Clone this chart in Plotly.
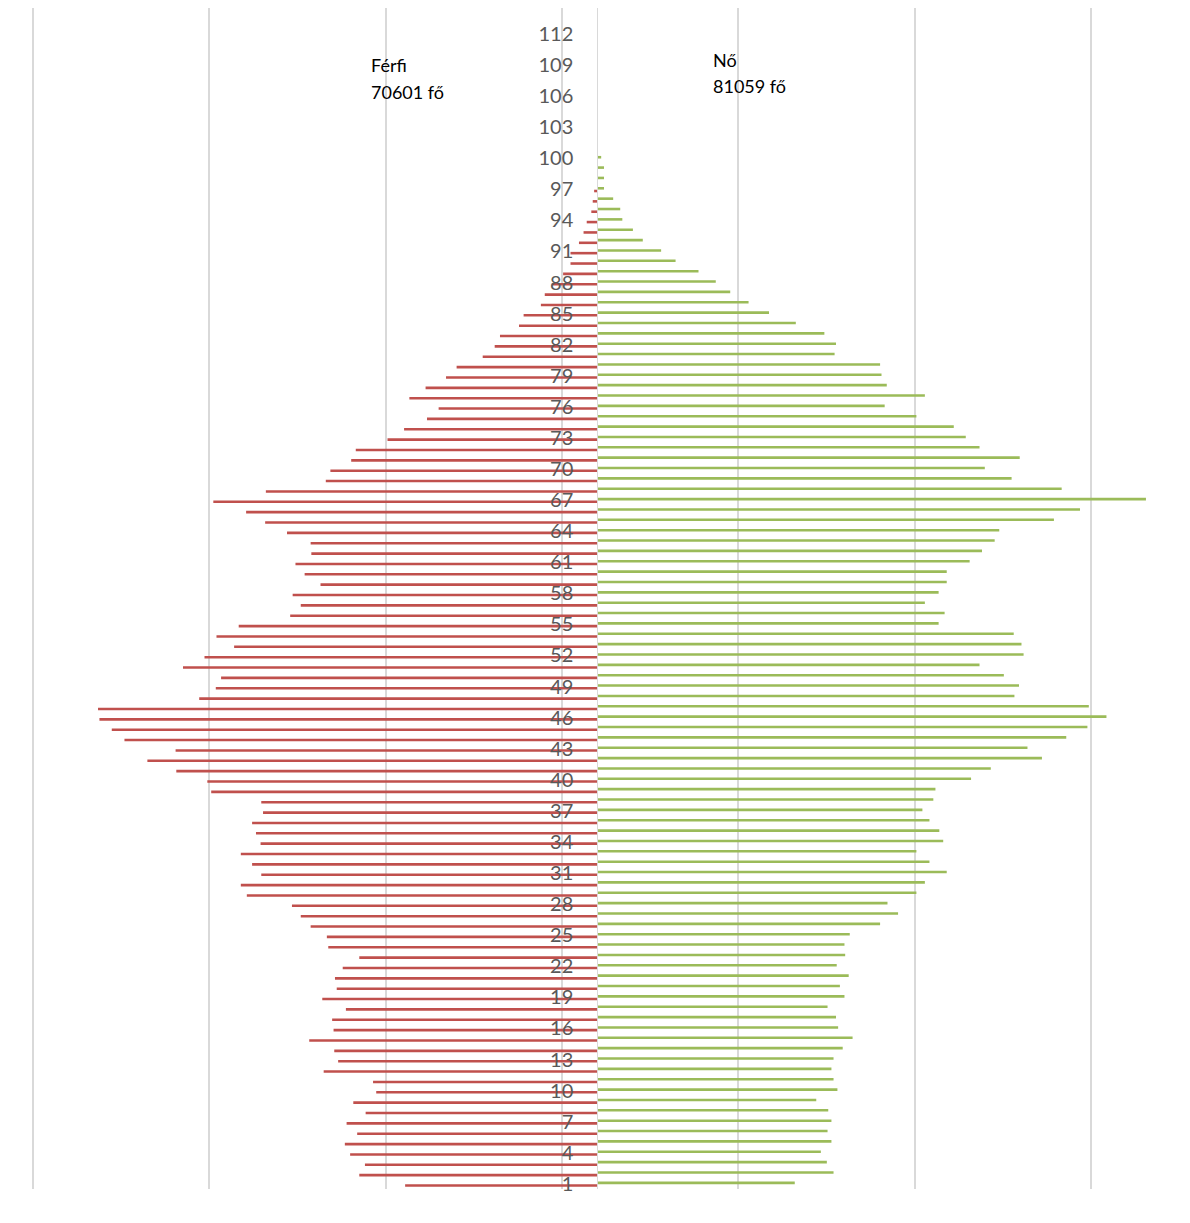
import plotly.graph_objects as go

# ---- data ----
female = [560, 670, 651, 634, 664, 653, 664, 655, 621, 681,
          670, 664, 670, 696, 724, 683, 677, 653, 701, 688,
          713, 679, 703, 701, 716, 802, 853, 823, 905, 929,
          991, 942, 905, 981, 970, 942, 922, 953, 959, 1060,
          1116, 1261, 1220, 1330, 1390, 1444, 1394, 1183, 1196, 1153,
          1084, 1209, 1203, 1181, 968, 985, 929, 968, 991, 991,
          1056, 1091, 1127, 1140, 1295, 1369, 1556, 1317, 1175, 1099,
          1198, 1084, 1045, 1011, 905, 815, 929, 821, 806, 802,
          673, 677, 644, 563, 487, 429, 377, 336, 287, 222,
          181, 129, 101, 71, 65, 45, 19, 19, 19, 11]
male = [545, 675, 659, 701, 716, 681, 711, 657, 692, 627,
        636, 776, 735, 746, 817, 748, 752, 713, 780, 739,
        744, 722, 675, 763, 767, 813, 841, 866, 994, 1011,
        953, 979, 1011, 955, 968, 979, 948, 953, 1095, 1106,
        1194, 1276, 1196, 1341, 1377, 1412, 1416, 1129, 1082, 1067,
        1175, 1114, 1030, 1080, 1017, 871, 841, 864, 785, 830,
        856, 811, 813, 880, 942, 996, 1089, 940, 770, 757,
        698, 685, 595, 548, 483, 450, 533, 487, 429, 399,
        325, 291, 276, 222, 209, 160, 149, 129, 97, 76,
        76, 52, 39, 30, 17, 13, 9]
female_ages = list(range(1, len(female) + 1))
male_ages = list(range(1, len(male) + 1))
tick_ages = list(range(1, 113, 3))
tick_labels = [str(a) for a in tick_ages]
grid_values = [-1600, -1100, -600, -100, 400, 900, 1400]
male_label = ["Férfi", "70601 fő"]
female_label = ["Nő", "81059 fő"]

# page has an 8px body margin, so figure coords = page coords - 8
OFF = 8
W, H = 1182, 1215
L, R, T, B = 0, 0, 0, 34
plot_w = W - L - R
plot_h = H - T - B
zero_px = 597.3 - OFF
px_per_unit = 176.3 / 500.0
x_min = (L - zero_px) / px_per_unit
x_max = (W - R - zero_px) / px_per_unit

MALE_COLOR = "#C0504D"
FEMALE_COLOR = "#9BBB59"

fig = go.Figure()
fig.add_trace(go.Bar(
    y=male_ages, x=[-v for v in male], orientation="h",
    marker=dict(color=MALE_COLOR, line=dict(width=0)),
    width=0.25, offset=-0.29, name="Férfi", showlegend=False,
))
fig.add_trace(go.Bar(
    y=female_ages, x=female, orientation="h",
    marker=dict(color=FEMALE_COLOR, line=dict(width=0)),
    width=0.25, offset=-0.03, name="Nő", showlegend=False,
))

def py(page_px):
    return (H - B - (page_px - OFF)) / plot_h

def pxx(page_px):
    return (page_px - OFF - L) / plot_w

ann = []
for txt, yy in zip(male_label, [65, 92]):
    ann.append(dict(text=txt, x=pxx(369), y=py(yy), xref="paper", yref="paper",
                    xanchor="left", yanchor="middle", showarrow=False,
                    font=dict(family="Lato", size=18, color="#000000")))
for txt, yy in zip(female_label, [60, 86]):
    ann.append(dict(text=txt, x=pxx(711), y=py(yy), xref="paper", yref="paper",
                    xanchor="left", yanchor="middle", showarrow=False,
                    font=dict(family="Lato", size=18, color="#000000")))

fig.update_layout(
    width=W, height=H,
    margin=dict(l=L, r=R, t=T, b=B, pad=0),
    paper_bgcolor="white", plot_bgcolor="white",
    barmode="overlay",
    annotations=ann,
    shapes=[dict(type="line", xref="paper", yref="paper",
                 x0=pxx(1188.5), x1=pxx(1188.5), y0=py(1230), y1=py(0),
                 line=dict(color="#d9d9d9", width=1), layer="below")],
    xaxis=dict(range=[x_min, x_max], tickvals=grid_values, showticklabels=False,
               showgrid=True, gridcolor="#d9d9d9", gridwidth=1.5,
               zeroline=False, showline=False, ticks=""),
    yaxis=dict(range=[0.5, 114.5], tickvals=tick_ages, ticktext=tick_labels,
               anchor="free", position=pxx(597.3), side="left",
               showgrid=False, zeroline=False, showline=True,
               linecolor="#d9d9d9", linewidth=1, ticks="",
               ticklabelstandoff=20,
               tickfont=dict(family="Lato", size=20, color="#595959")),
    font=dict(family="Lato"),
)

fig.write_html("out.html")
